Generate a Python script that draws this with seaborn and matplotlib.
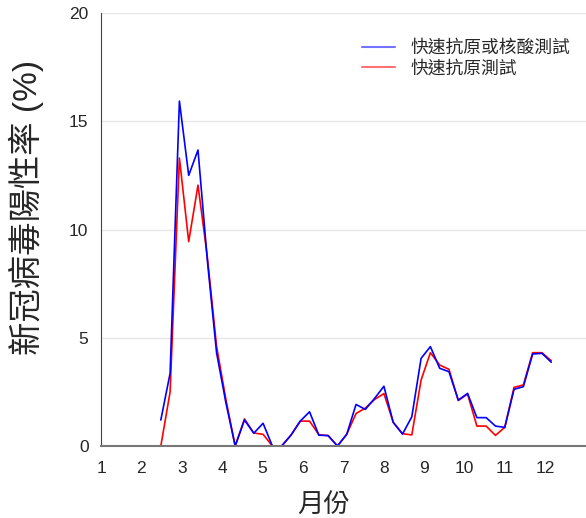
import numpy as np
import pandas as pd
import matplotlib
matplotlib.use("Agg")
import matplotlib.pyplot as plt
import seaborn as sns
from matplotlib.lines import Line2D

# 週次資料 (月份, 陽性率 %)
week_month = [2.48, 2.71, 2.94, 3.17, 3.40, 3.63, 3.86, 4.09, 4.32, 4.55,
              4.78, 5.01, 5.24, 5.47, 5.70, 5.93, 6.16, 6.39, 6.62, 6.85,
              7.08, 7.31, 7.54, 7.77, 8.00, 8.23, 8.46, 8.69, 8.92, 9.15,
              9.38, 9.61, 9.84, 10.07, 10.30, 10.53, 10.76, 10.99, 11.22, 11.45,
              11.68, 11.91, 12.14]
rat_or_pcr = [1.2, 3.36, 15.93, 12.5, 13.67, 8.6, 4.3, 2.0, 0.0, 1.2,
              0.59, 1.05, 0.0, 0.0, 0.5, 1.15, 1.58, 0.5, 0.48, 0.0,
              0.54, 1.92, 1.69, 2.2, 2.76, 1.09, 0.55, 1.35, 4.05, 4.59,
              3.59, 3.43, 2.12, 2.43, 1.31, 1.31, 0.92, 0.86, 2.62, 2.74,
              4.25, 4.28, 3.87]
rat_only = [0.0, 2.5, 13.3, 9.44, 12.05, 8.75, 4.6, 2.15, 0.0, 1.25,
            0.6, 0.54, 0.0, 0.0, 0.5, 1.15, 1.15, 0.52, 0.48, 0.0,
            0.54, 1.5, 1.75, 2.15, 2.42, 1.1, 0.57, 0.51, 3.05, 4.31,
            3.74, 3.54, 2.1, 2.4, 0.92, 0.92, 0.49, 0.86, 2.71, 2.82,
            4.31, 4.31, 3.94]
series_names = ["快速抗原或核酸測試", "快速抗原測試"]
month_ticks = list(range(1, 13))
y_ticks = [0, 5, 10, 15, 20]

df = pd.DataFrame({
    "月份": week_month * 2,
    "陽性率": rat_or_pcr + rat_only,
    "測試": [series_names[0]] * len(week_month) + [series_names[1]] * len(week_month),
})

sns.set_style("white")
plt.rcParams["font.family"] = ["Liberation Sans", "Noto Sans CJK TC", "DejaVu Sans"]

fig = plt.figure(figsize=(5.86, 5.18), dpi=100)
ax = fig.add_axes([101 / 586, 72 / 518, 485 / 586, 433 / 518])

sns.lineplot(data=df, x="月份", y="陽性率", hue="測試",
             palette={series_names[0]: "#0000ff", series_names[1]: "#ff0000"},
             hue_order=[series_names[1], series_names[0]],
             linewidth=1.2, ax=ax, legend=False)

ax.set_xlim(1, 13)
ax.set_ylim(0, 20)
ax.set_xticks(month_ticks)
ax.set_yticks(y_ticks)
ax.yaxis.grid(True, color="#e6e6e6", linewidth=1)
ax.set_axisbelow(True)
ax.tick_params(axis="x", direction="in", length=8, width=1, color="#444444",
               labelsize=12.5, pad=11)
ax.tick_params(axis="y", length=0, labelsize=12.5, pad=9)
for s in ["top", "right"]:
    ax.spines[s].set_visible(False)
ax.spines["left"].set_color("#444444")
ax.spines["bottom"].set_color("#777777")
ax.spines["bottom"].set_linewidth(1.5)

ax.set_xlabel("月份", fontsize=19)
ax.xaxis.set_label_coords(0.458, -0.108)
ax.set_ylabel("新冠病毒陽性率 (%)", fontsize=24)
ax.yaxis.set_label_coords(-0.117, 0.551)

# 圖例
handles = [Line2D([], [], color="#0000ff", alpha=0.55, lw=1.5),
           Line2D([], [], color="#ff0000", alpha=0.55, lw=1.5)]
ax.legend(handles, series_names, loc="upper right", frameon=False,
          fontsize=12.8, handlelength=1.85, handletextpad=0.85,
          labelspacing=0.2, bbox_to_anchor=(1.0, 0.975))

fig.savefig("out.png", dpi=100)
